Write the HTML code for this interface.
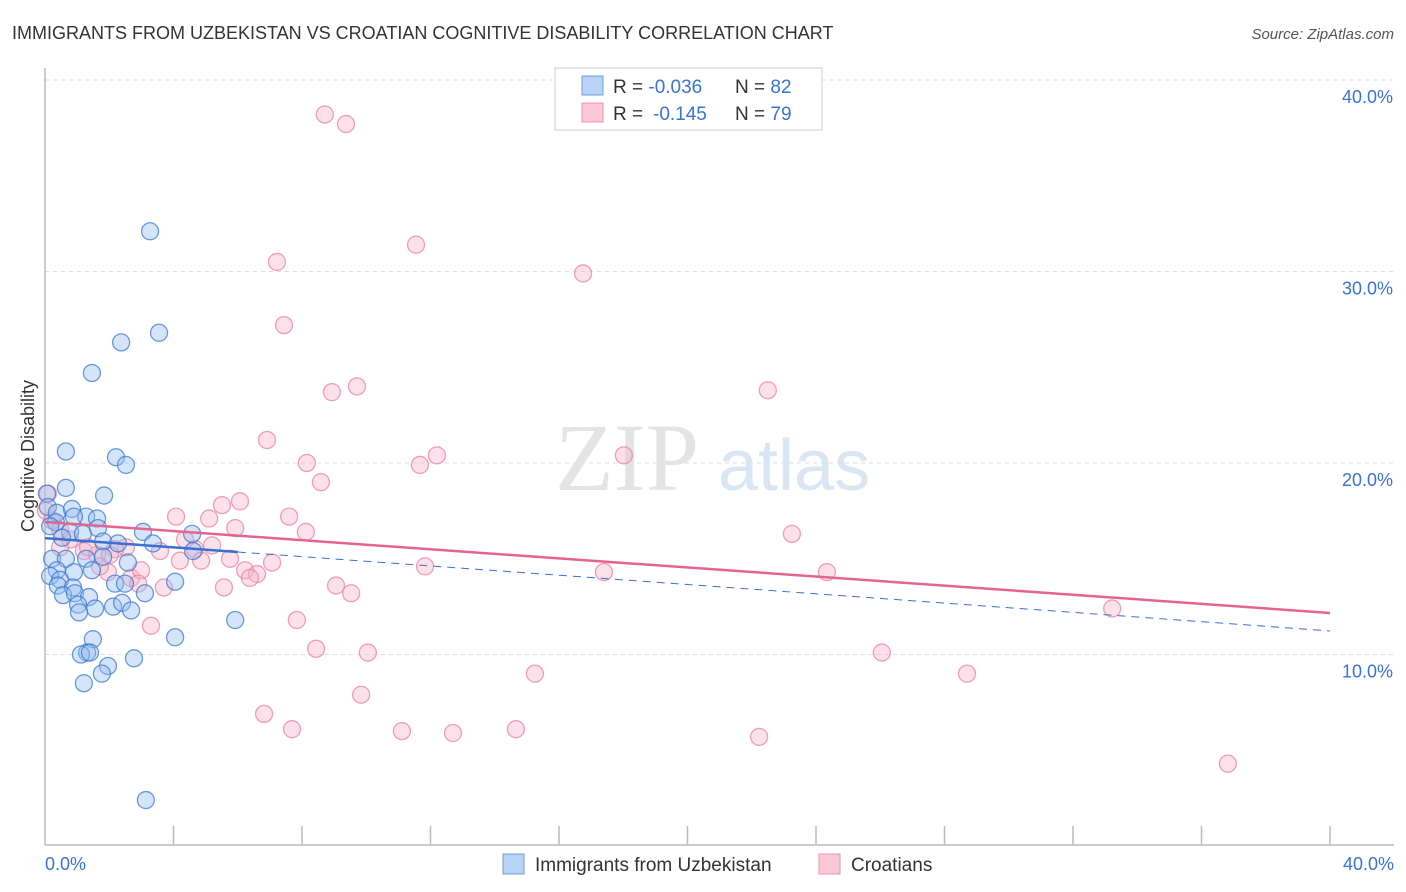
<!DOCTYPE html>
<html><head><meta charset="utf-8">
<style>
body{margin:0;background:#fff;font-family:"Liberation Sans",sans-serif;}
svg{display:block}
</style></head>
<body>
<svg id="chart" width="1406" height="892">
<text x="12" y="39" font-size="18" fill="#333">IMMIGRANTS FROM UZBEKISTAN VS CROATIAN COGNITIVE DISABILITY CORRELATION CHART</text>
<text x="1394" y="39" font-size="15" fill="#555" font-style="italic" text-anchor="end">Source: ZipAtlas.com</text>
<g id="grid"></g>
<line x1="45" y1="68" x2="45" y2="845" stroke="#bbb" stroke-width="1.5"/>
<line x1="45" y1="845" x2="1394" y2="845" stroke="#bbb" stroke-width="1.5"/>
<g id="xticks"></g>
<text x="45" y="870" font-size="18" fill="#3b73d1">0.0%</text>
<text x="1394" y="870" font-size="18" fill="#3b73d1" text-anchor="end">40.0%</text>
<text x="34" y="456" font-size="18" fill="#333" text-anchor="middle" transform="rotate(-90 34 456)">Cognitive Disability</text>
<text x="555" y="490" font-size="96" fill="#e4e4e4" font-family="Liberation Serif,serif">ZIP</text>
<text x="718" y="490" font-size="72" fill="#dbe6f5">atlas</text>
<g id="pts"></g>
<g id="lines"></g>
<g>
<rect x="555" y="68" width="267" height="62" fill="#fff" stroke="#ccc"/>
<rect x="582" y="76" width="21" height="19" fill="#b9d3f5" stroke="#6d9ee0"/>
<rect x="582" y="103" width="21" height="19" fill="#fbc8d7" stroke="#ec93ad"/>
<text x="613" y="93" font-size="19" fill="#333">R = <tspan fill="#3b73d1">-0.036</tspan><tspan x="735">N = </tspan><tspan fill="#3b73d1">82</tspan></text>
<text x="613" y="120" font-size="19" fill="#333">R = <tspan fill="#3b73d1" x="653">-0.145</tspan><tspan x="735">N = </tspan><tspan fill="#3b73d1">79</tspan></text>
</g>
<g>
<rect x="503" y="854" width="21" height="20" fill="#b9d3f5" stroke="#6d9ee0"/>
<text x="535" y="871" font-size="19" fill="#333">Immigrants from Uzbekistan</text></g>
<g>
<rect x="819" y="854" width="21" height="20" fill="#fbc8d7" stroke="#ec93ad"/>
<text x="851" y="871" font-size="19" fill="#333">Croatians</text></g>
</svg>
<script>
const yTicks=[10,20,30,40];
const yTickLabels=["10.0%","20.0%","30.0%","40.0%"];
const blueX=[3.27,3.55,2.37,1.46,0.65,2.21,2.52,0.65,0.06,1.84,0.09,0.37,0.84,1.28,1.62,0.9,0.34,0.78,1.18,1.65,3.05,4.58,0.16,0.53,1.81,2.27,3.36,0.22,0.65,1.28,1.81,2.58,4.61,0.37,0.9,1.46,0.16,0.47,4.05,0.4,0.87,2.18,2.49,0.56,0.93,1.37,3.11,1.03,1.56,2.12,2.4,1.06,2.68,1.49,1.31,5.92,4.05,1.12,1.4,2.77,1.96,1.77,1.21,3.14];
const blueY=[32.1,26.8,26.3,24.7,20.6,20.3,19.9,18.7,18.4,18.3,17.7,17.4,17.6,17.2,17.1,17.2,16.9,16.4,16.3,16.6,16.4,16.3,16.7,16.1,15.9,15.8,15.8,15.0,15.0,15.0,15.1,14.8,15.4,14.4,14.3,14.4,14.1,13.9,13.8,13.6,13.5,13.7,13.7,13.1,13.2,13.0,13.2,12.6,12.4,12.5,12.7,12.2,12.3,10.8,10.1,11.8,10.9,10.0,10.1,9.8,9.4,9.0,8.5,2.4];
const pinkX=[8.71,9.37,11.55,7.22,16.75,7.44,9.71,8.93,22.5,6.91,12.2,11.67,8.15,18.02,8.59,6.07,5.51,0.09,4.08,5.11,7.6,5.92,8.12,23.25,0.03,0.22,0.47,1.21,1.62,2.52,3.58,4.67,4.2,2.18,4.36,5.2,5.76,7.07,4.86,6.23,6.6,6.38,11.83,17.4,24.34,2.68,2.99,1.96,1.71,2.9,3.7,5.57,9.06,9.53,7.84,3.3,8.44,10.05,26.05,15.25,28.7,9.84,6.82,7.69,11.11,12.7,14.66,22.23,33.22,36.82,1.34,0.78,2.02,0.47];
const pinkY=[38.2,37.7,31.4,30.5,29.9,27.2,24.0,23.7,23.8,21.2,20.4,19.9,20.0,20.4,19.0,18.0,17.8,18.4,17.2,17.1,17.2,16.6,16.4,16.3,17.5,17.0,16.5,15.4,15.2,15.6,15.4,15.5,14.9,15.5,16.0,15.7,15.0,14.8,14.9,14.4,14.2,14.0,14.6,14.3,14.3,14.0,14.4,14.3,14.6,13.7,13.5,13.5,13.6,13.2,11.8,11.5,10.3,10.1,10.1,9.0,9.0,7.9,6.9,6.1,6.0,5.9,6.1,5.7,12.4,4.3,15.6,16.0,15.2,15.6];
const blueTrend=[16.08,11.23];
const pinkTrend=[16.92,12.17];
const NS="http://www.w3.org/2000/svg";
const X=v=>45+v*32.125, Y=v=>846-v*19.15;
const grid=document.getElementById('grid');
yTicks.forEach((t,i)=>{
 const l=document.createElementNS(NS,'line');
 l.setAttribute('x1',45);l.setAttribute('x2',1394);l.setAttribute('y1',Y(t));l.setAttribute('y2',Y(t));
 l.setAttribute('stroke','#ddd');l.setAttribute('stroke-dasharray','4 4');
 
 
 grid.appendChild(l);
 const tx=document.createElementNS(NS,'text');
 tx.setAttribute('x',1393);tx.setAttribute('y',Y(t)+23);tx.setAttribute('text-anchor','end');
 tx.setAttribute('font-size','18');tx.setAttribute('fill','#3b73d1');tx.textContent=yTickLabels[i];
 
 
 grid.appendChild(tx);
});
const xt=document.getElementById('xticks');
for(let i=1;i<=10;i++){
 const l=document.createElementNS(NS,'line');
 l.setAttribute('x1',X(i*4));l.setAttribute('x2',X(i*4));l.setAttribute('y1',826);l.setAttribute('y2',845);
 l.setAttribute('stroke','#bbb');l.setAttribute('stroke-width','1.5');
 
 
 xt.appendChild(l);
}
const pts=document.getElementById('pts');
function dots(xs,ys,fill,stroke,name){
 xs.forEach((x,i)=>{
  const c=document.createElementNS(NS,'circle');
  c.setAttribute('cx',X(x));c.setAttribute('cy',Y(ys[i]));c.setAttribute('r',8.5);
  c.setAttribute('fill',fill);c.setAttribute('stroke',stroke);c.setAttribute('stroke-width','1.3');
  
  
  pts.appendChild(c);
 });
}
dots(pinkX,pinkY,'rgba(248,180,202,0.4)','rgba(232,130,162,0.75)','croatian-point');
dots(blueX,blueY,'rgba(150,190,240,0.4)','rgba(60,120,210,0.75)','uzbekistan-point');
const lines=document.getElementById('lines');
function seg(x1,y1,x2,y2,col,w,dash,name){
 const l=document.createElementNS(NS,'line');
 l.setAttribute('x1',X(x1));l.setAttribute('y1',Y(y1));l.setAttribute('x2',X(x2));l.setAttribute('y2',Y(y2));
 l.setAttribute('stroke',col);l.setAttribute('stroke-width',w);if(dash)l.setAttribute('stroke-dasharray',dash);
 
 
 lines.appendChild(l);
}
const bAt=x=>blueTrend[0]+(blueTrend[1]-blueTrend[0])*x/40;
seg(0,bAt(0),6,bAt(6),'#3b6fd1',2.5,null,'uzbekistan-trend-solid');
seg(6,bAt(6),40,bAt(40),'#3b6fd1',1,'8 6','uzbekistan-trend-dashed');
seg(0,pinkTrend[0],40,pinkTrend[1],'#e4648f',2.5,null,'croatian-trend');
</script>
</body></html>
